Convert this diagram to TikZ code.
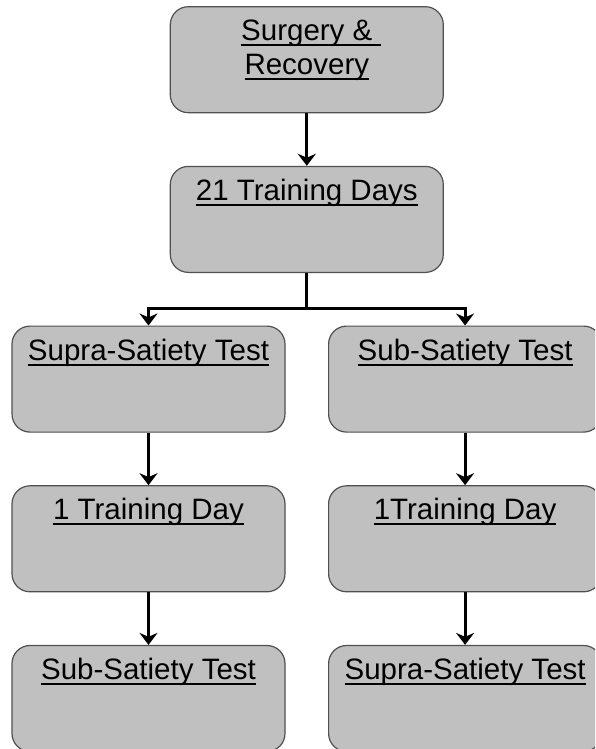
\documentclass[tikz,border=0pt]{standalone}
\usepackage{fontspec}
\setmainfont{Liberation Sans}
\usetikzlibrary{arrows.meta,positioning}
\definecolor{boxfill}{RGB}{192,192,192}
\definecolor{boxline}{RGB}{80,80,80}
\newsavebox{\ulsave}
\newcommand{\ulin}[1]{\leavevmode\sbox{\ulsave}{#1}\rlap{\rule[-5.5pt]{\wd\ulsave}{2pt}}\usebox{\ulsave}}

\begin{document}
\begin{tikzpicture}[-{Stealth[length=12pt,width=18pt]},line width=3pt,node distance=52.5pt,
    stage/.style={rectangle,rounded corners=18pt,draw=boxline,line width=1.2pt,fill=boxfill,
      minimum width=273pt,minimum height=106pt,inner sep=0pt,
      font=\fontsize{29.5}{34}\selectfont,
      execute at begin node={\begin{minipage}[c][106pt][t]{273pt}\centering\rule{0pt}{34pt}},
      execute at end node={\end{minipage}}}]
  \path[use as bounding box,clip] (0,0) rectangle (595pt,-749pt);

  \node[stage] (surgery) at (306.8pt,-59.7pt) {\ulin{Surgery \&}\rlap{\ulin{\ }}\\\ulin{Recovery}};
  \node[stage] (train) [below=of surgery] {\ulin{21 Training Days}};
  \node[stage] (supra1) [below=of train,xshift=-158.3pt] {\ulin{Supra-Satiety Test}};
  \node[stage] (sub1) [below=of train,xshift=158.3pt] {\ulin{Sub-Satiety Test}};
  \node[stage] (day1) [below=of supra1] {\ulin{1 Training Day}};
  \node[stage] (day2) [below=of sub1] {\ulin{1Training Day}};
  \node[stage] (sub2) [below=of day1] {\ulin{Sub-Satiety Test}};
  \node[stage] (supra2) [below=of day2] {\ulin{Supra-Satiety Test}};

  \coordinate (fork) at ([yshift=-35.5pt]train.south);
  \draw (train.south) -- (fork) -| (supra1.north);
  \draw (fork) -| (sub1.north);

  \path (surgery) edge (train)
        (supra1) edge (day1)
        (sub1) edge (day2)
        (day1) edge (sub2)
        (day2) edge (supra2);
\end{tikzpicture}
\end{document}
